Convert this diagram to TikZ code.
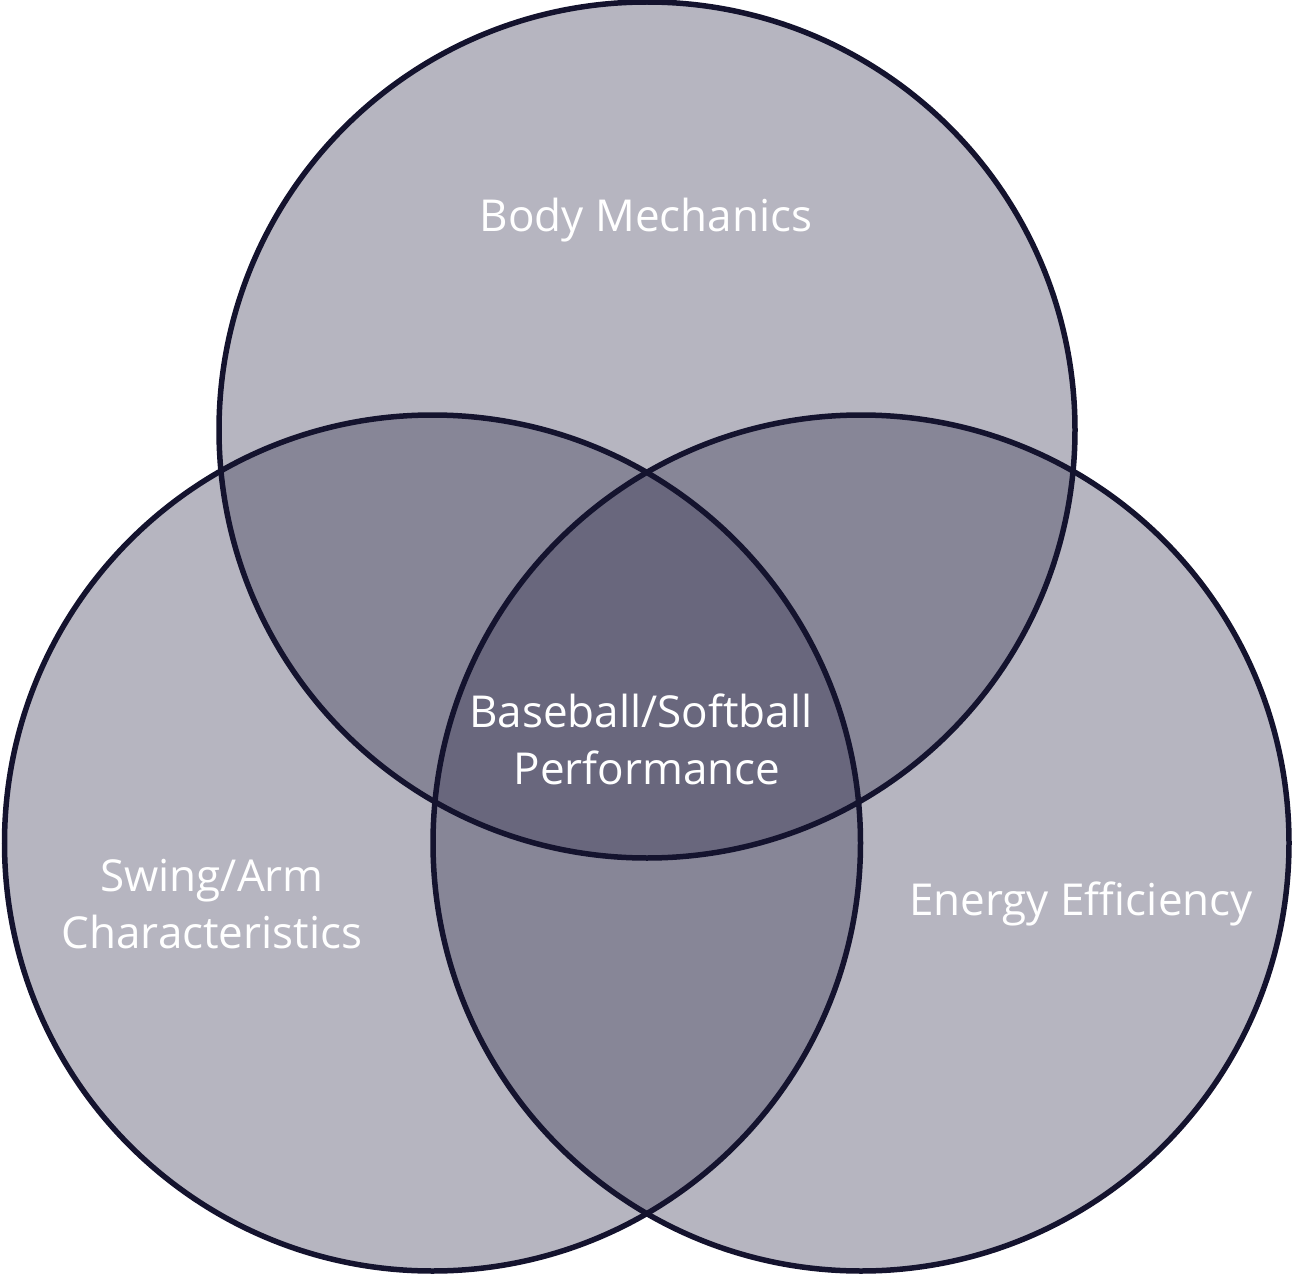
\documentclass[tikz,border=0pt]{standalone}
\usepackage{fontspec}
\setmainfont{Open Sans}
\definecolor{vfill}{RGB}{52,50,80}
\definecolor{vline}{RGB}{20,19,46}
\begin{document}
\begin{tikzpicture}[x=1pt,y=-1pt,
  vcirc/.style={circle,minimum size=856pt,inner sep=0pt,outer sep=0pt},
  vlabel/.style={text=white,align=center,font=\fontsize{44}{57}\selectfont}]
\useasboundingbox (0,0) rectangle (1294,1287);
\node[vcirc] (top) at (647,430) {};
\node[vcirc] (left) at (432.5,843) {};
\node[vcirc] (right) at (861,843) {};
\foreach \c in {top,left,right}
  \fill[vfill,fill opacity=0.36] (\c.center) circle (428);
\foreach \c in {top,left,right}
  \draw[vline,line width=5.5pt] (\c.center) circle (428);
\node[vlabel] (bm) at (646,220) {Body Mechanics};
\node[vlabel] (perf) at (647,739) {Baseball/Softball\rule{12pt}{0pt}\\Performance};
\node[vlabel] (swing) at (212,904) {Swing/Arm\\Characteristics};
\node[vlabel] (energy) at (1081,904) {Energy Efficiency};
\end{tikzpicture}
\end{document}
